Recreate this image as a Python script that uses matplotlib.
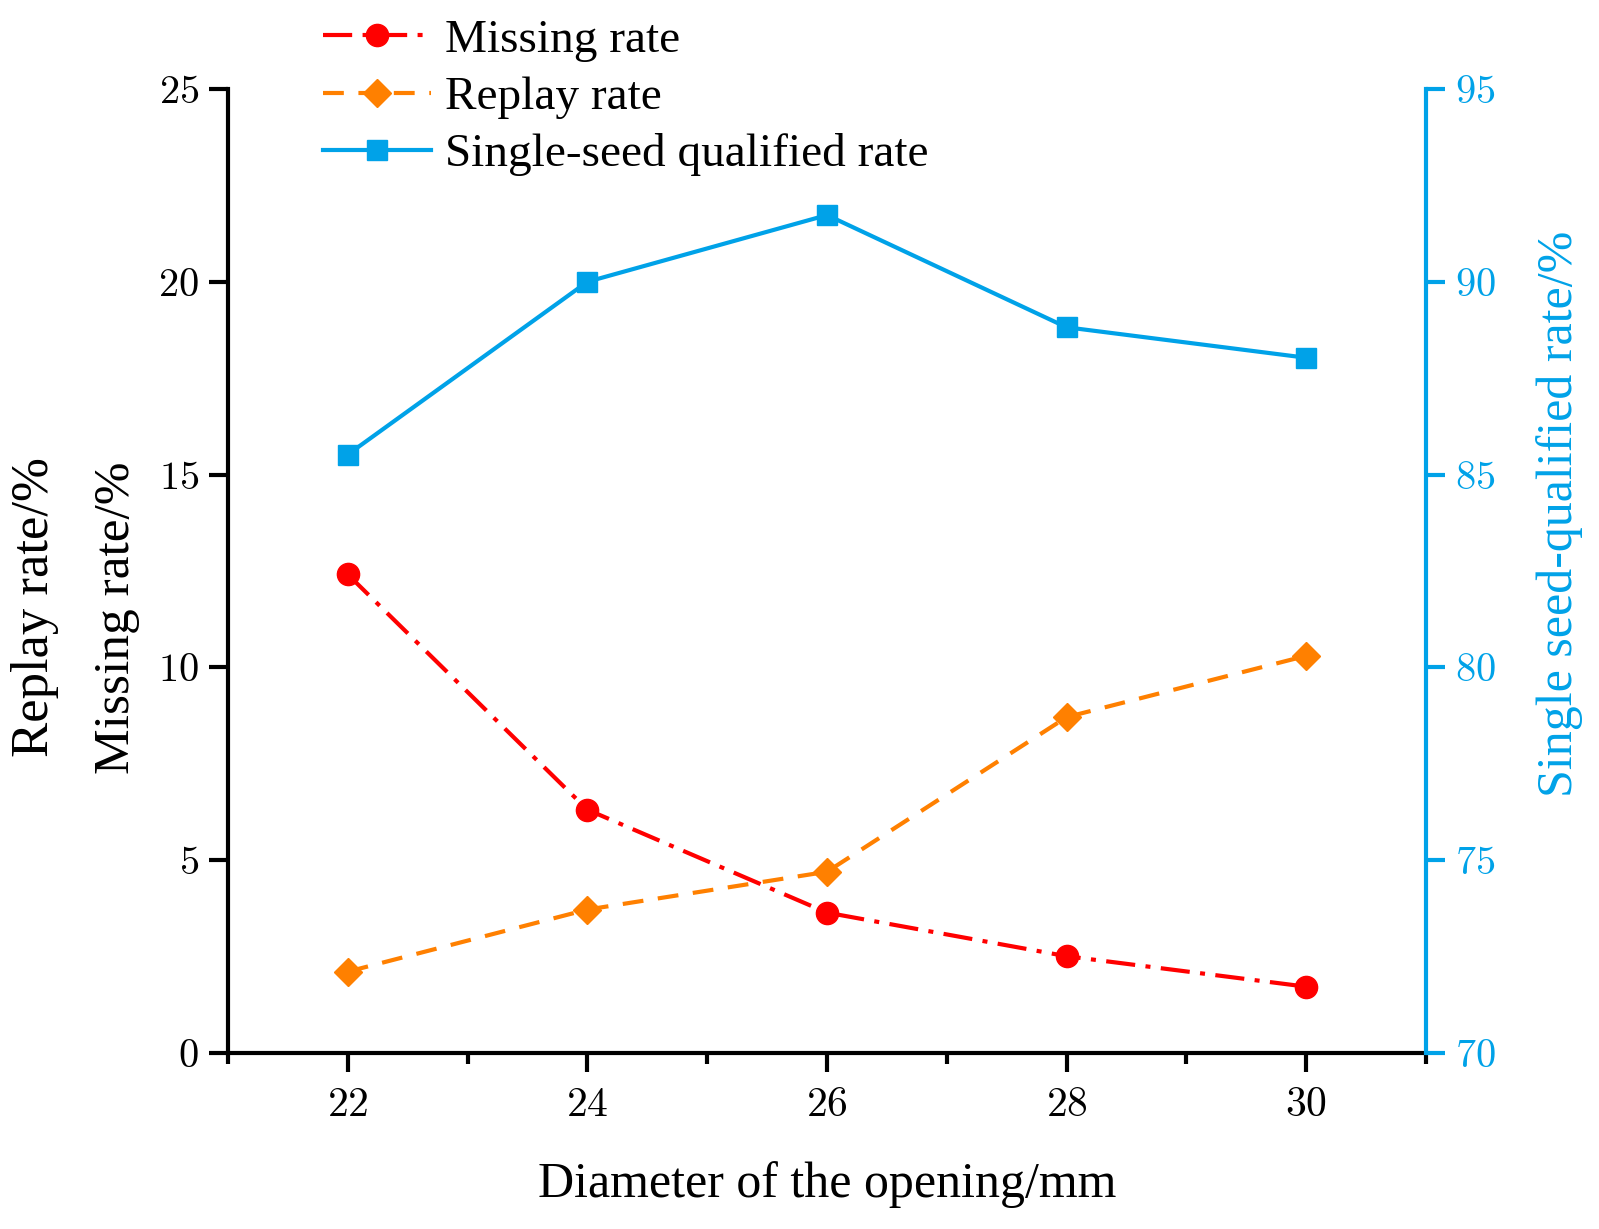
import numpy as np
from matplotlib import pyplot as plt
from matplotlib.ticker import FixedLocator, FuncFormatter

plt.rcParams["font.family"] = ["Liberation Serif", "DejaVu Serif"]
plt.rcParams["mathtext.fontset"] = "cm"

diameter = [22, 24, 26, 28, 30]
missing_rate = [12.41, 6.31, 3.64, 2.51, 1.72]
replay_rate = [2.11, 3.72, 4.70, 8.71, 10.30]
qualified_rate = [85.52, 90.00, 91.73, 88.82, 88.03]

red = "#ff0000"
orange = "#ff8000"
blue = "#00a2e8"

fig = plt.figure(figsize=(15.99, 12.29), dpi=100)
ax = fig.add_axes([0.1426, 0.1432, 0.7492, 0.7844])
ax2 = ax.twinx()

l1, = ax.plot(diameter, missing_rate, color=red, linestyle=(0, (7, 2.5, 1.2, 2.5)), lw=3,
              marker="o", markersize=16, label="Missing rate")
l2, = ax.plot(diameter, replay_rate, color=orange, linestyle=(0, (5, 3.5)), lw=3,
              marker="D", markersize=14, label="Replay rate")
l3, = ax2.plot(diameter, qualified_rate, color=blue, linestyle="-", lw=3,
               marker="s", markersize=14, label="Single-seed qualified rate")

ax.set_xlim(21, 31)
ax.set_ylim(0, 25)
ax2.set_ylim(70, 95)

cm = FuncFormatter(lambda v, p: "$%d$" % v)
ax.xaxis.set_major_locator(FixedLocator(diameter))
ax.xaxis.set_minor_locator(FixedLocator([21, 23, 25, 27, 29, 31]))
ax.yaxis.set_major_locator(FixedLocator([0, 5, 10, 15, 20, 25]))
ax2.yaxis.set_major_locator(FixedLocator([70, 75, 80, 85, 90, 95]))
ax.xaxis.set_major_formatter(cm)
ax.yaxis.set_major_formatter(cm)
ax2.yaxis.set_major_formatter(cm)

for a in (ax, ax2):
    for s in a.spines.values():
        s.set_linewidth(3)
ax.spines["top"].set_visible(False)
ax2.spines["top"].set_visible(False)
ax.spines["right"].set_visible(False)
ax2.spines["left"].set_visible(False)
ax2.spines["bottom"].set_visible(False)
ax2.spines["right"].set_color(blue)

ax.tick_params(axis="x", which="major", direction="out", length=14, width=3,
               labelsize=30, pad=10)
ax.tick_params(axis="y", which="major", direction="out", length=14, width=3,
               labelsize=29, pad=7)
ax.tick_params(axis="x", which="minor", direction="out", length=8, width=3)
ax2.tick_params(axis="y", which="major", direction="out", length=14, width=3,
                labelsize=29, colors=blue, pad=7)

ax.set_xlabel("Diameter of the opening/mm", fontsize=36, labelpad=26)
fig.text(0.975, 0.582, "Single seed-qualified rate/%", rotation=90, fontsize=36,
         color=blue, ha="center", va="center")
fig.text(0.022, 0.506, "Replay rate/%", rotation=90, fontsize=38, ha="center", va="center")
fig.text(0.073, 0.497, "Missing rate/%", rotation=90, fontsize=37, ha="center", va="center")

fig.legend(handles=[l1, l2, l3], loc="upper left", bbox_to_anchor=(0.19, 1.0),
           frameon=False, fontsize=34, handlelength=2.3, handletextpad=0.3,
           labelspacing=0.3, borderaxespad=0)

fig.savefig("out.png", dpi=100)
